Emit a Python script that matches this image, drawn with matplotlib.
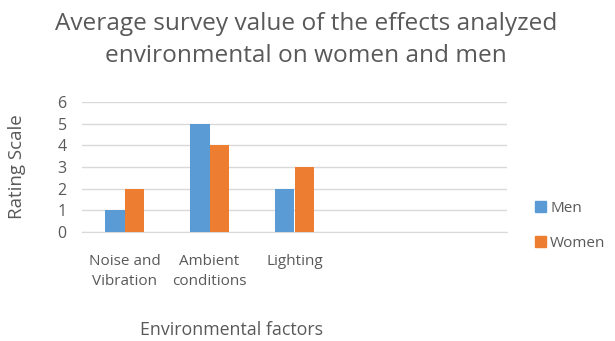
import matplotlib
matplotlib.use("Agg")
import matplotlib.pyplot as plt
import numpy as np
from matplotlib.patches import Patch

categories = ["Noise and\nVibration", "Ambient\nconditions", "Lighting", "", ""]
men = [1, 5, 2, 0, 0]
women = [2, 4, 3, 0, 0]
yticks = [0, 1, 2, 3, 4, 5, 6]

BLUE = "#5B9BD5"
ORANGE = "#ED7D31"
TXT = "#595959"
GRID = "#D9D9D9"

plt.rcParams['font.family'] = ['Open Sans', 'DejaVu Sans']

fig = plt.figure(figsize=(6.15, 3.41), dpi=100)
ax = fig.add_axes([82/615, 1-232/341, 425/615, 130/341])

x = np.arange(len(categories))
w = 0.235
ax.bar(x[:3] - w/2, men[:3], w, color=BLUE, label="Men", zorder=3)
ax.bar(x[:3] + w/2, women[:3], w, color=ORANGE, label="Women", zorder=3)

ax.set_xlim(-0.5, len(categories) - 0.5)
ax.set_ylim(0, 6)
ax.set_yticks(yticks)
ax.set_xticks(x)
ax.set_xticklabels(categories, fontsize=11, color=TXT, linespacing=1.45)
ax.tick_params(axis='y', length=0, pad=11, labelsize=11.5, labelcolor=TXT)
ax.tick_params(axis='x', length=0, pad=16)
ax.grid(axis='y', color=GRID, linewidth=1, zorder=0)
for s in ['top', 'right', 'left']:
    ax.spines[s].set_visible(False)
ax.spines['bottom'].set_color(GRID)

fig.text(17/615, 1-167/341, "Rating Scale", rotation=90, ha='center', va='center',
         fontsize=13.5, color=TXT)
fig.text(231/615, 1-330/341, "Environmental factors", ha='center', va='center',
         fontsize=12.8, color=TXT)
fig.text(306/615, 1-40/341, "Average survey value of the effects analyzed\nenvironmental on women and men",
         ha='center', va='center', fontsize=17.6, color=TXT, linespacing=1.5)

handles = [Patch(color=BLUE), Patch(color=ORANGE)]
fig.legend(handles, ["Men", "Women"], loc='center left', bbox_to_anchor=(535/615, 1-226/341),
           frameon=False, fontsize=11, labelcolor=TXT, handlelength=0.7, handleheight=0.7,
           handletextpad=0.3, labelspacing=1.3, borderpad=0, borderaxespad=0)

fig.savefig("out.png", dpi=100)
